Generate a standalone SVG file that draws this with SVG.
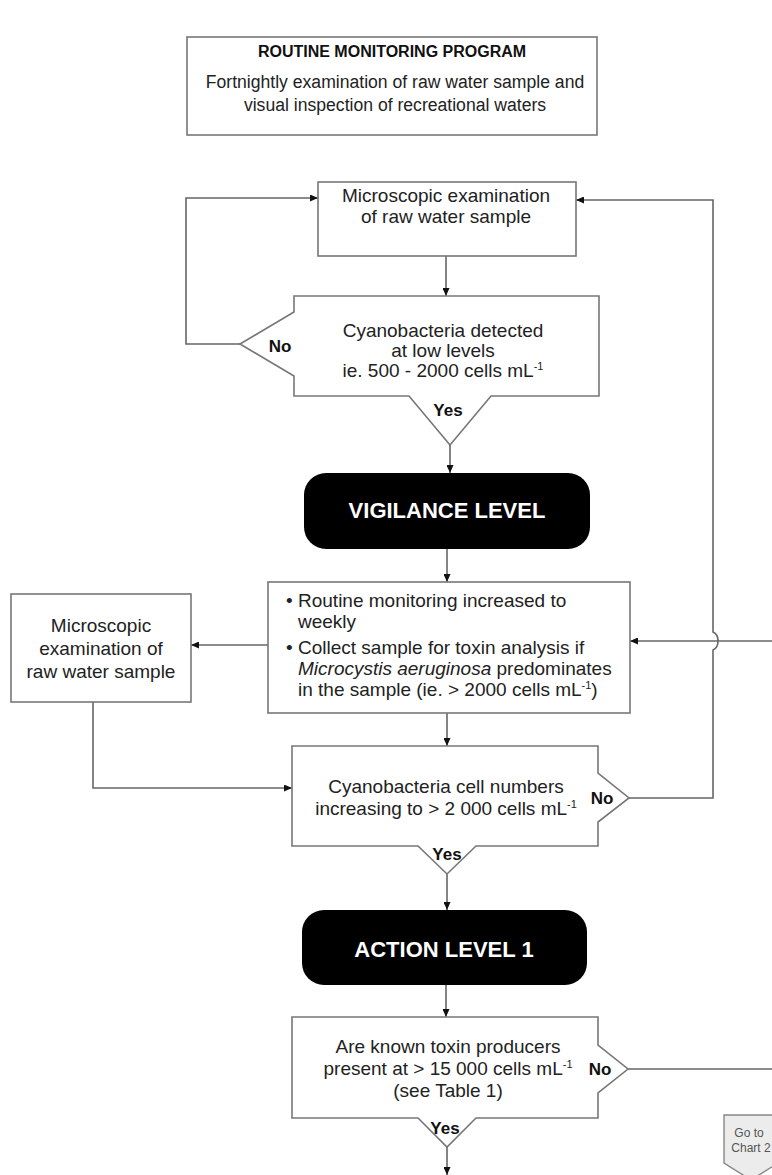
<svg xmlns="http://www.w3.org/2000/svg" width="772" height="1175" viewBox="0 0 772 1175">
<style>
.box{fill:#fff;stroke:#777;stroke-width:1.6}
.term{fill:#000}
.t{font-family:"Liberation Sans",Arial,sans-serif;font-size:19px;fill:#222}
.c{text-anchor:middle}
.h{font-family:"Liberation Sans",Arial,sans-serif;font-weight:bold;font-size:16px;fill:#111;text-anchor:middle}
.w{font-family:"Liberation Sans",Arial,sans-serif;font-weight:bold;font-size:22px;fill:#fff;text-anchor:middle}
.lb{font-family:"Liberation Sans",Arial,sans-serif;font-weight:bold;font-size:17px;fill:#111;text-anchor:middle}
.sup{font-size:11px}
.ln{fill:none;stroke:#666;stroke-width:1.6}
.go{fill:#ececec;stroke:#888;stroke-width:1.4}
.gt{font-family:"Liberation Sans",Arial,sans-serif;font-size:12px;fill:#555;text-anchor:middle}
</style>
<defs>
<marker id="ah" markerUnits="userSpaceOnUse" markerWidth="8" markerHeight="7" refX="8" refY="3.5" orient="auto">
<path d="M0,0 L8,3.5 L0,7 z" fill="#111"/>
</marker>
</defs>
<rect width="772" height="1175" fill="#fff"/>

<g id="connectors">
<path class="ln" d="M446,256 V296" marker-end="url(#ah)"/>
<path class="ln" d="M240,344 H186 V198 H318" marker-end="url(#ah)"/>
<path class="ln" d="M450,445 V473" marker-end="url(#ah)"/>
<path class="ln" d="M447,549 V582" marker-end="url(#ah)"/>
<path class="ln" d="M268,645 H191" marker-end="url(#ah)"/>
<path class="ln" d="M93,702 V788 H292" marker-end="url(#ah)"/>
<path class="ln" d="M447,713 V746" marker-end="url(#ah)"/>
<path class="ln" d="M629,798 H713 V650 Q718,648 718,641 Q718,634 713,632 V200 H576" marker-end="url(#ah)"/>
<path class="ln" d="M772,641 H630" marker-end="url(#ah)"/>
<path class="ln" d="M447,874 V910" marker-end="url(#ah)"/>
<path class="ln" d="M446,985 V1017" marker-end="url(#ah)"/>
<path class="ln" d="M628,1069 H772"/>
<path class="ln" d="M447,1147 V1175" marker-end="url(#ah)"/>
</g>

<g id="title">
<rect class="box" x="187" y="37" width="410" height="98"/>
<text class="h" x="392" y="57">ROUTINE MONITORING PROGRAM</text>
<text class="t c" x="395" y="88" style="font-size:17.6px">Fortnightly examination of raw water sample and</text>
<text class="t c" x="395" y="111" style="font-size:17.6px">visual inspection of recreational waters</text>
</g>

<g id="micro1">
<rect class="box" x="318" y="182" width="258" height="74"/>
<text class="t c" x="446" y="202">Microscopic examination</text>
<text class="t c" x="446" y="223">of raw water sample</text>
</g>

<g id="decision1">
<path class="box" d="M294,296 H599 V396 H491 L450,445 L409,396 H294 V376 L240,344 L294,312 Z"/>
<text class="t c" x="443" y="337">Cyanobacteria detected</text>
<text class="t c" x="443" y="357">at low levels</text>
<text class="t c" x="443" y="377">ie. 500 - 2000 cells mL<tspan class="sup" dy="-7">-1</tspan></text>
<text class="lb" x="280" y="352">No</text>
<text class="lb" x="448" y="416">Yes</text>
</g>

<g id="vigilance">
<rect class="term" x="304" y="473" width="286" height="76" rx="22"/>
<text class="w" x="447" y="518">VIGILANCE LEVEL</text>
</g>

<g id="actions">
<rect class="box" x="268" y="582" width="362" height="131"/>
<text class="t" x="286" y="607">•</text>
<text class="t" x="298" y="607">Routine monitoring increased to</text>
<text class="t" x="298" y="628">weekly</text>
<text class="t" x="286" y="654">•</text>
<text class="t" x="298" y="654">Collect sample for toxin analysis if</text>
<text class="t" x="298" y="675"><tspan font-style="italic">Microcystis aeruginosa</tspan> predominates</text>
<text class="t" x="298" y="696">in the sample (ie. &gt; 2000 cells mL<tspan class="sup" dy="-7">-1</tspan><tspan dy="7">)</tspan></text>
</g>

<g id="micro2">
<rect class="box" x="11" y="594" width="180" height="108"/>
<text class="t c" x="101" y="632">Microscopic</text>
<text class="t c" x="101" y="655">examination of</text>
<text class="t c" x="101" y="678">raw water sample</text>
</g>

<g id="decision2">
<path class="box" d="M292,746 H598 V773 L629,798 L598,822 V846 H476 L447,874 L418,846 H292 Z"/>
<text class="t c" x="446" y="793">Cyanobacteria cell numbers</text>
<text class="t c" x="446" y="815">increasing to &gt; 2 000 cells mL<tspan class="sup" dy="-7">-1</tspan></text>
<text class="lb" x="602" y="804">No</text>
<text class="lb" x="447" y="860">Yes</text>
</g>

<g id="action1">
<rect class="term" x="302" y="910" width="285" height="75" rx="22"/>
<text class="w" x="444" y="957">ACTION LEVEL 1</text>
</g>

<g id="decision3">
<path class="box" d="M292,1017 H598 V1045 L628,1069 L598,1093 V1118 H476 L447,1147 L418,1118 H292 Z"/>
<text class="t c" x="448" y="1053">Are known toxin producers</text>
<text class="t c" x="448" y="1075">present at &gt; 15 000 cells mL<tspan class="sup" dy="-7">-1</tspan></text>
<text class="t c" x="448" y="1097">(see Table 1)</text>
<text class="lb" x="600" y="1075">No</text>
<text class="lb" x="445" y="1134">Yes</text>
</g>

<g id="goto">
<path class="go" d="M724,1115 H778 V1163 L751,1180 L724,1163 Z"/>
<text class="gt" x="749" y="1137">Go to</text>
<text class="gt" x="751" y="1152">Chart 2</text>
</g>
</svg>
